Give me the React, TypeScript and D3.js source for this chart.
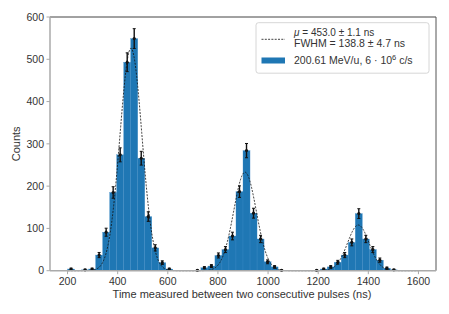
import React from "react";
import * as d3 from "d3";

const binStart = 200;
const binWidth = 28;
const counts = [
  4, 0, 2, 4, 37, 91, 185, 274, 493, 549, 266, 128, 54, 19, 4, 0, 0, 0, 1, 7,
  11, 36, 50, 82, 187, 284, 136, 75, 21, 9, 1, 0, 0, 0, 0, 1, 4, 9, 20, 37,
  67, 135, 75, 50, 25, 6, 2, 0, 0, 0,
];
const fitMeans = [453, 908, 1360];
const fitSigmas = [44, 45, 43];
const fitAmps = [526, 233, 108];
const xTicks = [200, 400, 600, 800, 1000, 1200, 1400, 1600];
const yTicks = [0, 100, 200, 300, 400, 500, 600];
const legendFit = ["μ = 453.0 ± 1.1 ns", "FWHM = 138.8 ± 4.7 ns"];
const legendBar = "200.61 MeV/u, 6 · 10⁶ c/s";

const W = 449, H = 314;
const L = 50, R = 436, T = 17, B = 270.7;
const FONT = "'Liberation Sans', Arial, sans-serif";

export default function App() {
  const x = d3.scaleLinear().domain([130, 1670]).range([L, R]);
  const y = d3.scaleLinear().domain([0, 600]).range([B, T]);
  const bins = counts.map((c, i) => ({
    x0: binStart + i * binWidth,
    x1: binStart + (i + 1) * binWidth,
    c,
  }));
  const fit = (v: number) =>
    fitMeans.reduce(
      (s, m, i) => s + fitAmps[i] * Math.exp(-((v - m) ** 2) / (2 * fitSigmas[i] ** 2)),
      0
    );
  const pts = d3.range(binStart, binStart + binWidth * counts.length + 0.1, 2).map((v) => [v, fit(v)] as [number, number]);
  const line = d3.line<[number, number]>().x((d) => x(d[0])).y((d) => y(d[1]));

  return (
    <svg width={W} height={H} style={{ position: "absolute", left: 0, top: 0, background: "#fff" }}>
      {bins.map((b, i) => (
        <rect key={i} x={x(b.x0)} y={y(b.c)} width={x(b.x1) - x(b.x0)} height={B - y(b.c)}
          fill="#1f77b4" stroke="#3f8bc6" strokeWidth={0.3} />
      ))}
      <path d={line(pts) || ""} fill="none" stroke="#111" strokeWidth={0.8} strokeDasharray="2,1.3" />
      {bins.map((b, i) => {
        if (b.c <= 0) return null;
        const cx = x((b.x0 + b.x1) / 2);
        const e = Math.sqrt(b.c);
        return (
          <g key={"e" + i} stroke="#111">
            <line x1={cx} x2={cx} y1={y(b.c + e)} y2={y(Math.max(0, b.c - e))} strokeWidth={1.4} />
            <line x1={cx - 1.5} x2={cx + 1.5} y1={y(b.c + e)} y2={y(b.c + e)} strokeWidth={1} />
            <line x1={cx - 1.5} x2={cx + 1.5} y1={y(Math.max(0, b.c - e))} y2={y(Math.max(0, b.c - e))} strokeWidth={1} />
            <circle cx={cx} cy={y(b.c)} r={1.6} fill="#111" stroke="none" />
          </g>
        );
      })}
      {/* spines */}
      <line x1={L} x2={R} y1={T} y2={T} stroke="#444" strokeWidth={1} />
      <line x1={R} x2={R} y1={T} y2={B} stroke="#555" strokeWidth={1} />
      <line x1={L} x2={L} y1={T} y2={B} stroke="#aaa" strokeWidth={1.5} />
      <line x1={L} x2={R} y1={B} y2={B} stroke="#aaa" strokeWidth={1.5} />
      {xTicks.map((t) => (
        <g key={"x" + t}>
          <line x1={x(t)} x2={x(t)} y1={B} y2={B + 3.5} stroke="#aaa" strokeWidth={1} />
          <text x={x(t)} y={B + 14} textAnchor="middle" fontSize={10.5} fontFamily={FONT} fill="#333">{t}</text>
        </g>
      ))}
      {yTicks.map((t) => (
        <g key={"y" + t}>
          <line x1={L - 3.5} x2={L} y1={y(t)} y2={y(t)} stroke="#aaa" strokeWidth={1} />
          <text x={L - 6} y={y(t) + 3.7} textAnchor="end" fontSize={10.5} fontFamily={FONT} fill="#333">{t}</text>
        </g>
      ))}
      <text x={242} y={298} textAnchor="middle" fontSize={11} fontFamily={FONT} fill="#333">
        Time measured between two consecutive pulses (ns)
      </text>
      <text transform={`translate(20,${(T + B) / 2}) rotate(-90)`} textAnchor="middle" fontSize={11} fontFamily={FONT} fill="#333">
        Counts
      </text>
      {/* legend */}
      <rect x={256} y={22.7} width={173} height={50.5} rx={2.5} fill="#fff" stroke="#ccc" strokeWidth={0.8} />
      <line x1={261.5} x2={285} y1={39.3} y2={39.3} stroke="#111" strokeWidth={0.8} strokeDasharray="2,1.3" />
      <text x={294} y={36.3} fontSize={10} fontFamily={FONT} fill="#333">
        <tspan fontStyle="italic">μ</tspan> = 453.0 ± 1.1 ns
      </text>
      <text x={294} y={47.4} fontSize={10.5} fontFamily={FONT} fill="#333">{legendFit[1]}</text>
      <rect x={261.5} y={57.5} width={23.5} height={6} fill="#1f77b4" />
      <text x={294} y={64} fontSize={10.5} fontFamily={FONT} fill="#333">
        200.61 MeV/u, 6 · 10<tspan dy={-4} fontSize={7.5}>6</tspan><tspan dy={4}> c/s</tspan>
      </text>
    </svg>
  );
}
